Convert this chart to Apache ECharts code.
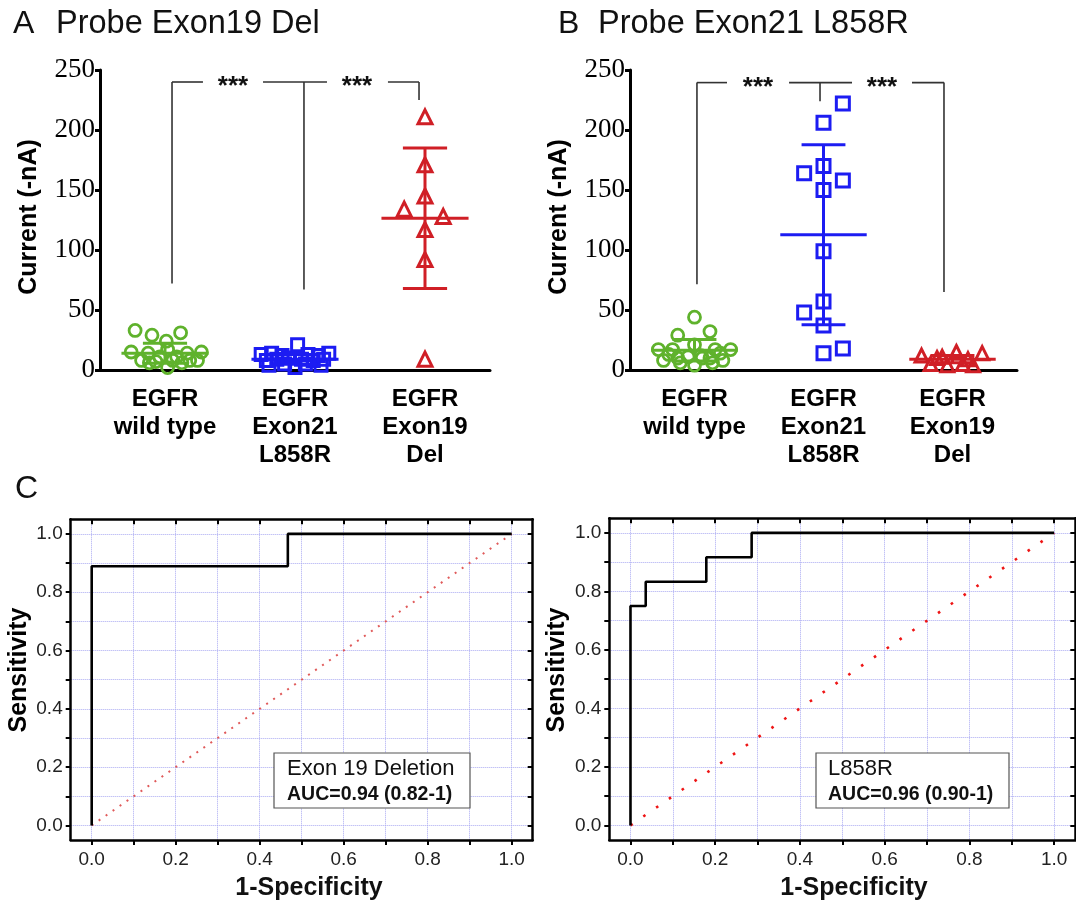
<!DOCTYPE html>
<html><head><meta charset="utf-8">
<script src="https://cdn.jsdelivr.net/npm/echarts@6/dist/echarts.min.js"></script>
<style>html,body{margin:0;padding:0;background:#fff}#c{width:1076px;height:902px}</style>
</head><body><div id="c"></div>
<script>
// ---------- data ----------
const categories = ['EGFR\nwild type', 'EGFR\nExon21\nL858R', 'EGFR\nExon19\nDel'];
const currentTicks = [0, 50, 100, 150, 200, 250];

// Panel A: Probe Exon19 Del
const aWildVals = [33, 29, 24, 31, 15, 14, 17, 14, 15, 8, 7, 8, 8, 8, 2, 6, 6, 11, 11];
const aWildJit  = [-0.23, -0.10, 0.01, 0.12, -0.26, -0.13, 0.02, 0.17, 0.28, -0.18, -0.07, 0.06, 0.19, 0.25, 0.02, -0.12, 0.13, -0.04, 0.09];
const aL858Vals = [21, 13, 14, 12, 13, 12, 14, 8, 9, 10, 9, 8, 9, 5, 5, 2, 4, 4];
const aL858Jit  = [0.02, -0.26, -0.18, -0.10, 0.10, 0.18, 0.26, -0.22, -0.14, -0.05, 0.05, 0.14, 0.22, -0.08, 0.08, 0.0, -0.20, 0.20];
const aDelVals  = [211, 171, 145, 134, 128, 117, 92, 9];
const aDelJit   = [0, 0, 0, -0.16, 0.14, 0, 0, 0];
const aMean = [14, 9, 126.5];
const aSD   = [8.3, 4, 58.5];

// Panel B: Probe Exon21 L858R
const bWildVals = [44, 29, 32, 17, 17, 21, 17, 17, 8, 10, 11, 10, 10, 8, 6, 4, 6, 13, 14, 12];
const bWildJit  = [0, -0.13, 0.12, -0.28, -0.17, 0, 0.16, 0.28, -0.24, -0.13, -0.05, 0.06, 0.12, 0.22, -0.11, 0, 0.14, -0.2, 0.2, 0.05];
const bL858Vals = [222, 206, 170, 164, 158, 150, 99, 57, 48, 37, 14, 18];
const bL858Jit  = [0.15, 0, 0, -0.15, 0.15, 0, 0, 0, -0.15, 0, 0, 0.15];
const bDelVals  = [12, 15, 14, 11, 5, 4, 5, 4, 10, 9];
const bDelJit   = [-0.24, 0.03, 0.23, -0.08, -0.17, -0.04, 0.08, 0.16, -0.12, 0.12];
const bMean = [16.5, 112.8, 9];
const bSD   = [9, 75, 3];

// Panel C: ROC curves
const rocDelFpr  = [0, 0, 0.467, 0.467, 1];
const rocDelTpr  = [0, 0.889, 0.889, 1, 1];
const rocL858Fpr = [0, 0, 0.036, 0.036, 0.179, 0.179, 0.286, 0.286, 1];
const rocL858Tpr = [0, 0.75, 0.75, 0.833, 0.833, 0.917, 0.917, 1, 1];
const chanceLine = [[0, 0], [1, 1]];
const rocTickVals  = [0, 0.1, 0.2, 0.3, 0.4, 0.5, 0.6, 0.7, 0.8, 0.9, 1.0];
const rocLabelVals = [0, 0.2, 0.4, 0.6, 0.8, 1.0];

// significance brackets (annotation geometry, in category-index / current units)
const bracketA = { level: 240, drops: [[0.054, 72], [1.069, 67], [1.954, 225]],
  segs: [[0.054, 0.292], [0.754, 1.246], [1.715, 1.954]], stars: [0.523, 1.477] };
const bracketB = { level: 239.5, drops: [[0.019, 71.5], [0.973, 224], [1.934, 65]],
  segs: [[0.019, 0.252], [0.733, 1.221], [1.686, 1.934]], stars: [0.492, 1.453] };

// ---------- styles ----------
const GREEN = '#5fb22c', BLUE = '#1c1cf2', RED = '#d01f26';
const SANS = 'Liberation Sans';

const chart = echarts.init(document.getElementById('c'), null, { renderer: 'canvas' });

function catAxis(gi) {
  return { type: 'category', gridIndex: gi, data: categories, position: 'bottom',
    axisLine: { onZero: false, lineStyle: { color: '#000', width: 3 } },
    axisTick: { alignWithLabel: true, length: 9, lineStyle: { color: '#000', width: 3 } },
    axisLabel: { interval: 0, margin: 15, color: '#000', fontFamily: SANS, fontWeight: 'bold', fontSize: 24, lineHeight: 28 },
    splitLine: { show: false } };
}
function hiddenX(gi) {
  return { type: 'value', gridIndex: gi, min: -0.5, max: 2.5, show: false, position: 'bottom',
    axisLine: { onZero: false }, splitLine: { show: false } };
}
function currentAxis(gi) {
  return { type: 'value', gridIndex: gi, min: 0, max: 250, interval: 50,
    axisLine: { show: true, onZero: false, lineStyle: { color: '#000', width: 3 } },
    axisTick: { show: true, length: 5, lineStyle: { color: '#000', width: 3 } },
    axisLabel: { margin: 5, color: '#000', fontFamily: 'Liberation Serif', fontSize: 27 },
    splitLine: { show: false } };
}
function rocX(gi, pos) {
  const main = pos === 'bottom';
  return { type: 'value', gridIndex: gi, position: pos, min: -0.05, max: 1.05,
    axisLine: { show: true, onZero: false, lineStyle: { color: '#000', width: 2.5 } },
    axisTick: { show: true, inside: !main, length: 5, customValues: rocTickVals, lineStyle: { color: '#000', width: 2 } },
    axisLabel: { show: main, customValues: rocLabelVals, margin: 10, color: '#222', fontFamily: SANS, fontSize: 19,
      formatter: v => v.toFixed(1) },
    splitLine: { show: main, lineStyle: { color: '#a9a9f2', type: 'dotted', width: 1 } } };
}
function rocY(gi, pos) {
  const main = pos === 'left';
  return { type: 'value', gridIndex: gi, position: pos, min: -0.05, max: 1.05,
    axisLine: { show: true, onZero: false, lineStyle: { color: '#000', width: 2.5 } },
    axisTick: { show: true, inside: !main, length: 5, customValues: rocTickVals, lineStyle: { color: '#000', width: 2 } },
    axisLabel: { show: main, customValues: rocLabelVals, margin: 8, color: '#222', fontFamily: SANS, fontSize: 19,
      formatter: v => v.toFixed(1) },
    splitLine: { show: main, lineStyle: { color: '#a9a9f2', type: 'dotted', width: 1 } } };
}

function dots(xi, yi, cat, vals, jit, symbol, color, size) {
  return { type: 'scatter', xAxisIndex: xi, yAxisIndex: yi, symbol: symbol, symbolSize: size, silent: true, z: 4,
    data: vals.map((v, k) => [cat + jit[k], v]),
    itemStyle: { color: 'rgba(255,255,255,0)', borderColor: color, borderWidth: symbol === 'circle' ? 2.8 : 3, opacity: 1 } };
}
function errorBars(xi, yi, means, sds, colors) {
  return { type: 'custom', xAxisIndex: xi, yAxisIndex: yi, clip: false, silent: true, z: 5,
    data: means.map((m, i) => [i, m, sds[i]]),
    renderItem: function (params, api) {
      const i = api.value(0), m = api.value(1), s = api.value(2);
      const col = colors[params.dataIndex];
      const p = (x, y) => api.coord([x, y]);
      const seg = (a, b) => ({ type: 'line', shape: { x1: a[0], y1: a[1], x2: b[0], y2: b[1] },
        style: { stroke: col, lineWidth: 3 } });
      const lo = Math.max(m - s, 0);
      const ch = [seg(p(i - 0.335, m), p(i + 0.335, m)), seg(p(i, lo), p(i, m + s)),
        seg(p(i - 0.17, m + s), p(i + 0.17, m + s))];
      if (m - s > 0) ch.push(seg(p(i - 0.17, m - s), p(i + 0.17, m - s)));
      return { type: 'group', children: ch };
    } };
}
function bracket(xi, yi, br) {
  return { type: 'custom', xAxisIndex: xi, yAxisIndex: yi, clip: false, silent: true, z: 3,
    data: [[0, br.level]],
    renderItem: function (params, api) {
      const c = (x, y) => api.coord([x, y]);
      const ln = (a, b) => ({ type: 'line', shape: { x1: a[0], y1: a[1], x2: b[0], y2: b[1] },
        style: { stroke: '#333', lineWidth: 1.6 } });
      const ch = [];
      br.drops.forEach(d => ch.push(ln(c(d[0], br.level), c(d[0], d[1]))));
      br.segs.forEach(s => ch.push(ln(c(s[0], br.level), c(s[1], br.level))));
      br.stars.forEach(x => {
        const q = c(x, br.level);
        ch.push({ type: 'text', style: { x: q[0], y: q[1] + 5, text: '***', font: 'bold 26px "Liberation Sans"',
          fill: '#111', align: 'center', verticalAlign: 'middle' } });
      });
      return { type: 'group', children: ch };
    } };
}
function rocLine(xi, yi, fpr, tpr) {
  return { type: 'line', xAxisIndex: xi, yAxisIndex: yi, symbol: 'none', silent: true, z: 6,
    data: fpr.map((f, k) => [f, tpr[k]]), lineStyle: { color: '#000', width: 2.6 } };
}
function chance(xi, yi, color, width, dash) {
  return { type: 'line', xAxisIndex: xi, yAxisIndex: yi, symbol: 'none', silent: true, z: 5,
    data: chanceLine, lineStyle: { color: color, width: width, type: dash } };
}

function txt(x, y, text, font, align) {
  return { type: 'text', x: x, y: y, silent: true, z: 20,
    style: { text: text, font: font, fill: '#111', align: align || 'left', verticalAlign: 'middle' } };
}
function vtxt(x, y, text, font) {
  return { type: 'text', x: x, y: y, rotation: Math.PI / 2, silent: true, z: 20,
    style: { text: text, font: font, fill: '#000', align: 'center', verticalAlign: 'middle' } };
}

const option = {
  backgroundColor: '#fff',
  animation: false,
  grid: [
    { left: 100, top: 70, width: 390, height: 300 },
    { left: 630, top: 70, width: 387, height: 300 },
    { left: 70.7, top: 519.3, width: 462, height: 320.7 },
    { left: 609.3, top: 518.3, width: 466, height: 321.7 }
  ],
  xAxis: [catAxis(0), hiddenX(0), catAxis(1), hiddenX(1),
    rocX(2, 'bottom'), rocX(2, 'top'), rocX(3, 'bottom'), rocX(3, 'top')],
  yAxis: [currentAxis(0), currentAxis(1),
    rocY(2, 'left'), rocY(2, 'right'), rocY(3, 'left'), rocY(3, 'right')],
  series: [
    bracket(1, 0, bracketA),
    dots(1, 0, 0, aWildVals, aWildJit, 'circle', GREEN, 12),
    dots(1, 0, 1, aL858Vals, aL858Jit, 'rect', BLUE, 12),
    dots(1, 0, 2, aDelVals, aDelJit, 'triangle', RED, 14),
    errorBars(1, 0, aMean, aSD, [GREEN, BLUE, RED]),
    bracket(3, 1, bracketB),
    dots(3, 1, 0, bWildVals, bWildJit, 'circle', GREEN, 12),
    dots(3, 1, 1, bL858Vals, bL858Jit, 'rect', BLUE, 13),
    dots(3, 1, 2, bDelVals, bDelJit, 'triangle', RED, 13),
    errorBars(3, 1, bMean, bSD, [GREEN, BLUE, RED]),
    chance(4, 2, '#e05a5a', 2, [2, 6.5]),
    rocLine(4, 2, rocDelFpr, rocDelTpr),
    chance(6, 4, '#ee1515', 2.6, [2.6, 12.97]),
    rocLine(6, 4, rocL858Fpr, rocL858Tpr)
  ],
  graphic: [
    txt(13, 24, 'A', '32px "Liberation Sans"'),
    txt(56, 24, 'Probe Exon19 Del', '32.5px "Liberation Sans"'),
    txt(558, 24, 'B', '32px "Liberation Sans"'),
    txt(598, 24, 'Probe Exon21 L858R', '32.5px "Liberation Sans"'),
    txt(15, 489, 'C', '32px "Liberation Sans"'),
    vtxt(29, 217, 'Current (-nA)', 'bold 25px "Liberation Sans"'),
    vtxt(559, 217, 'Current (-nA)', 'bold 25px "Liberation Sans"'),
    vtxt(19, 670, 'Sensitivity', 'bold 25px "Liberation Sans"'),
    vtxt(557, 670, 'Sensitivity', 'bold 25px "Liberation Sans"'),
    txt(309, 888, '1-Specificity', 'bold 25px "Liberation Sans"', 'center'),
    txt(854, 888, '1-Specificity', 'bold 25px "Liberation Sans"', 'center'),
    { type: 'rect', shape: { x: 274, y: 753, width: 196, height: 55 }, silent: true, z: 15,
      style: { fill: '#fff', stroke: '#555', lineWidth: 1.2 } },
    txt(287, 769, 'Exon 19 Deletion', '22px "Liberation Sans"'),
    txt(287, 795, 'AUC=0.94 (0.82-1)', 'bold 19.5px "Liberation Sans"'),
    { type: 'rect', shape: { x: 816, y: 753, width: 193, height: 55 }, silent: true, z: 15,
      style: { fill: '#fff', stroke: '#555', lineWidth: 1.2 } },
    txt(828, 769, 'L858R', '22px "Liberation Sans"'),
    txt(828, 795, 'AUC=0.96 (0.90-1)', 'bold 19.5px "Liberation Sans"')
  ]
};
chart.setOption(option);
</script>
</body></html>
